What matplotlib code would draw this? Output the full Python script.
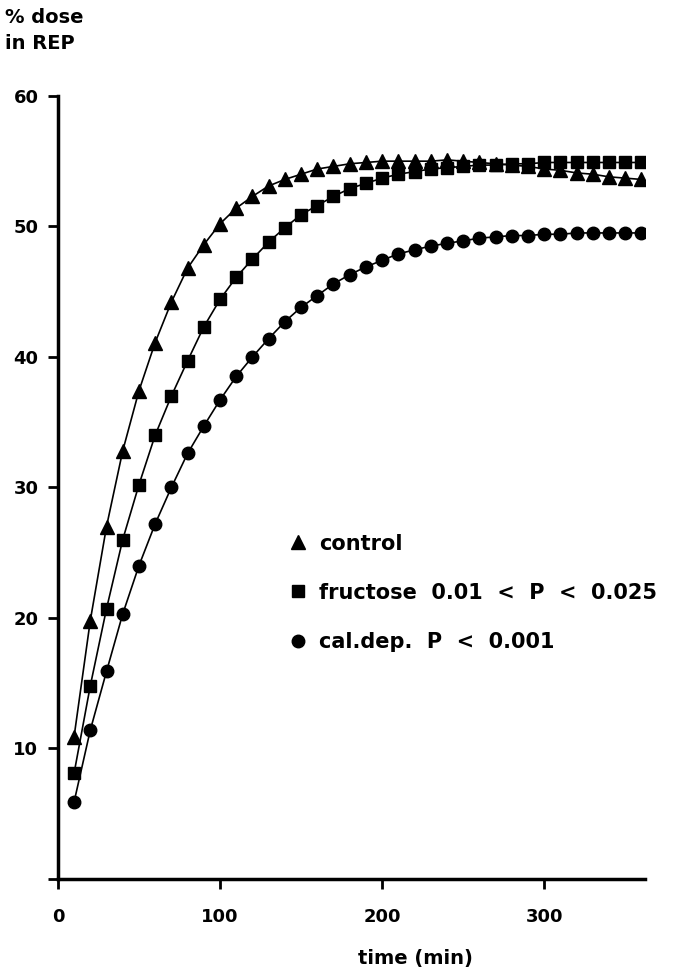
import matplotlib
matplotlib.use("Agg")
import matplotlib.pyplot as plt
from matplotlib.lines import Line2D

# sampling times (min)
time_min = list(range(10, 370, 10))

control = [10.9, 19.8, 27.0, 32.8, 37.4, 41.1, 44.2, 46.8, 48.6, 50.2,
           51.4, 52.3, 53.1, 53.6, 54.0, 54.4, 54.6, 54.8, 54.9, 55.0,
           55.0, 55.0, 55.0, 55.1, 55.0, 54.9, 54.8, 54.7, 54.6, 54.4,
           54.3, 54.1, 54.0, 53.8, 53.7, 53.6]
fructose = [8.1, 14.8, 20.7, 26.0, 30.2, 34.0, 37.0, 39.7, 42.3, 44.4,
            46.1, 47.5, 48.8, 49.9, 50.9, 51.6, 52.3, 52.9, 53.3, 53.7,
            54.0, 54.2, 54.4, 54.5, 54.6, 54.7, 54.7, 54.8, 54.8, 54.9,
            54.9, 54.9, 54.9, 54.9, 54.9, 54.9]
caldep = [5.9, 11.4, 15.9, 20.3, 24.0, 27.2, 30.0, 32.6, 34.7, 36.7,
          38.5, 40.0, 41.4, 42.7, 43.8, 44.7, 45.6, 46.3, 46.9, 47.4,
          47.9, 48.2, 48.5, 48.7, 48.9, 49.1, 49.2, 49.3, 49.3, 49.4,
          49.4, 49.5, 49.5, 49.5, 49.5, 49.5]

labels = ["control", "fructose  0.01  <  P  <  0.025", "cal.dep.  P  <  0.001"]
x_ticks = [0, 100, 200, 300]
y_ticks = [0, 10, 20, 30, 40, 50, 60]
y_tick_labels = ["", "10", "20", "30", "40", "50", "60"]

plt.rcParams['font.family'] = ['DejaVu Sans']
plt.rcParams['font.weight'] = 'bold'

fig = plt.figure(figsize=(6.73, 9.69), dpi=100)
ax = fig.add_axes([0.086, 0.093, 0.872, 0.808])

ax.plot(time_min, control, color='black', lw=1.2, marker='^', ms=10)
ax.plot(time_min, fructose, color='black', lw=1.2, marker='s', ms=8)
ax.plot(time_min, caldep, color='black', lw=1.2, marker='o', ms=9)

ax.set_xlim(0, 362)
ax.set_ylim(0, 60)
ax.set_xticks(x_ticks)
ax.set_yticks(y_ticks)
ax.set_yticklabels(y_tick_labels)
for s in ['top', 'right']:
    ax.spines[s].set_visible(False)
for s in ['left', 'bottom']:
    ax.spines[s].set_linewidth(2.5)
ax.tick_params(direction='out', length=7, width=2, labelsize=13)
ax.tick_params(axis='x', pad=14)
ax.tick_params(axis='y', pad=7)
ax.set_xlabel("time (min)", fontsize=14, fontweight='bold')
ax.xaxis.set_label_coords(0.61, -0.09)

fig.text(0.008, 0.992, "% dose\nin REP", fontsize=14, fontweight='bold',
         va='top', ha='left', linespacing=1.45)

handles = [Line2D([], [], color='black', ls='none', marker='^', ms=10),
           Line2D([], [], color='black', ls='none', marker='s', ms=8),
           Line2D([], [], color='black', ls='none', marker='o', ms=9)]
ax.legend(handles, labels, loc='upper left', bbox_to_anchor=(0.36, 0.465),
          frameon=False, labelspacing=1.4, handletextpad=0.5,
          handlelength=1.0, prop={'weight': 'bold', 'size': 15})

fig.savefig("out.png", dpi=100)
